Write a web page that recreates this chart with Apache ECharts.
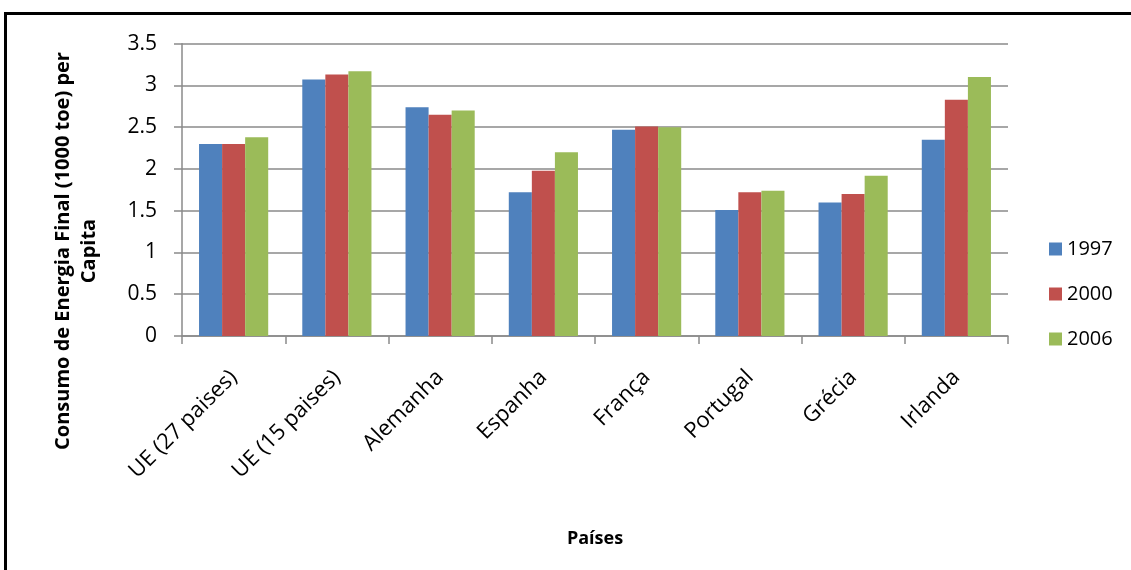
<!DOCTYPE html>
<html>
<head>
<meta charset="utf-8">
<script src="https://cdn.jsdelivr.net/npm/echarts@6/dist/echarts.min.js"></script>
<style>
  html, body { margin: 0; padding: 0; background: #fff; }
  #chart { width: 1131px; height: 570px; }
</style>
</head>
<body>
<div id="chart"></div>
<script>
// Final energy consumption per capita (1000 toe) by country and year
const categories = ['UE (27 paises)', 'UE (15 paises)', 'Alemanha', 'Espanha', 'França', 'Portugal', 'Grécia', 'Irlanda'];
const years = ['1997', '2000', '2006'];
const values1997 = [2.30, 3.07, 2.74, 1.72, 2.47, 1.51, 1.60, 2.35];
const values2000 = [2.30, 3.13, 2.65, 1.98, 2.51, 1.72, 1.70, 2.83];
const values2006 = [2.38, 3.17, 2.70, 2.20, 2.50, 1.74, 1.92, 3.10];
const colors = ['#4F81BD', '#C0504D', '#9BBB59'];

const FONT = '"Open Sans", "Noto Sans", sans-serif';
const AXIS_GRAY = '#8a8a8a';

const chart = echarts.init(document.getElementById('chart'), null, { renderer: 'canvas' });

const seriesData = [values1997, values2000, values2006];

chart.setOption({
  animation: false,
  color: colors,
  textStyle: { fontFamily: FONT, color: '#000' },
  grid: { left: 182, right: 123, top: 43.7, bottom: 234, containLabel: false },
  legend: {
    orient: 'vertical',
    left: 1049,
    top: 239,
    padding: 0,
    itemWidth: 13,
    itemHeight: 13,
    itemGap: 25,
    icon: 'rect',
    data: years,
    textStyle: { fontFamily: FONT, fontSize: 20, color: '#000', lineHeight: 20 }
  },
  xAxis: {
    type: 'category',
    data: categories,
    name: 'Países',
    nameLocation: 'middle',
    nameGap: 194,
    nameTextStyle: { fontFamily: FONT, fontSize: 18, fontWeight: 'bold', color: '#000' },
    axisLine: { lineStyle: { color: AXIS_GRAY, width: 1.5 } },
    axisTick: { show: true, length: 8, inside: false, lineStyle: { color: AXIS_GRAY, width: 1.5 } },
    axisLabel: {
      rotate: 45,
      margin: 38,
      interval: 0,
      fontFamily: FONT,
      fontSize: 22,
      color: '#000'
    }
  },
  yAxis: {
    type: 'value',
    min: 0,
    max: 3.5,
    interval: 0.5,
    axisLine: { show: true, lineStyle: { color: AXIS_GRAY, width: 1.5 } },
    axisTick: { show: true, length: 8, lineStyle: { color: AXIS_GRAY, width: 1.5 } },
    splitLine: { show: true, lineStyle: { color: AXIS_GRAY, width: 1.5 } },
    axisLabel: { margin: 25, fontFamily: FONT, fontSize: 21, color: '#000' }
  },
  series: years.map((y, i) => ({
    name: y,
    type: 'bar',
    data: seriesData[i],
    barGap: '0%',
    barCategoryGap: '33%',
    itemStyle: { color: colors[i] }
  })),
  graphic: [
    {
      // outer frame of the chart area
      type: 'rect',
      shape: { x: 5.5, y: 13.5, width: 1200, height: 600 },
      style: { fill: 'none', stroke: '#000', lineWidth: 3 },
      silent: true,
      z: 100
    },
    {
      type: 'text',
      x: 76,
      y: 251,
      rotation: Math.PI / 2,
      style: {
        text: 'Consumo de Energia Final (1000 toe) per\nCapita',
        font: 'bold 20px ' + FONT,
        fill: '#000',
        align: 'center',
        verticalAlign: 'middle',
        lineHeight: 26
      }
    }
  ]
});
</script>
</body>
</html>
